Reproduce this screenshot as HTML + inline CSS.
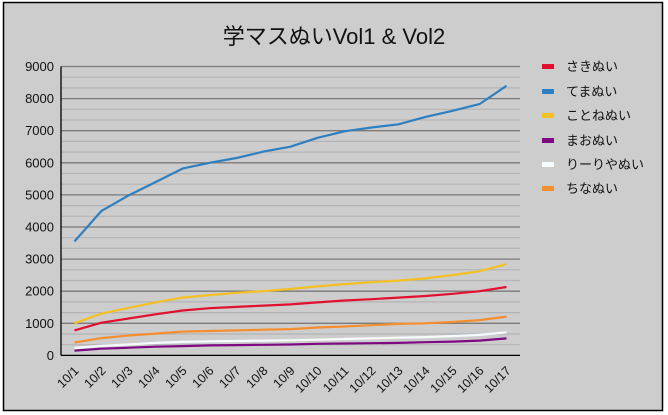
<!DOCTYPE html>
<html><head><meta charset="utf-8"><style>
html,body{margin:0;padding:0;background:#fff;}
svg{display:block;font-family:"Liberation Sans","Noto Sans CJK JP",sans-serif;}
</style></head><body>
<svg id="s" width="668" height="415" viewBox="0 0 668 415" xmlns="http://www.w3.org/2000/svg">
<rect x="3.5" y="2.5" width="659" height="408" fill="#cdcdcd" stroke="#000" stroke-width="1.5"/>
<text x="334" y="44" font-size="22" text-anchor="middle" fill="#111">学マスぬいVol1 &amp; Vol2</text>
<g id="grid"></g>
<g id="lines" fill="none" stroke-width="2.2" stroke-linejoin="round"></g>
<g id="lab" font-size="12.5" fill="#111"></g>
<g font-size="13" fill="#111">
<rect x="542" y="64" width="12" height="5" fill="#e0102e"/><text x="566" y="71">さきぬい</text>
<rect x="542" y="89" width="12" height="5" fill="#2e7fc0"/><text x="566" y="96">てまぬい</text>
<rect x="542" y="113" width="12" height="5" fill="#f5c023"/><text x="566" y="120">ことねぬい</text>
<rect x="542" y="138" width="12" height="5" fill="#7d0a82"/><text x="566" y="145">まおぬい</text>
<rect x="542" y="162" width="12" height="5" fill="#f6fbff"/><text x="566" y="169">りーりやぬい</text>
<rect x="542" y="186" width="12" height="5" fill="#f58e2f"/><text x="566" y="193">ちなぬい</text>
</g>
</svg>
<script>
var NS="http://www.w3.org/2000/svg";
function el(p,t,a,txt){var e=document.createElementNS(NS,t);for(var k in a)e.setAttribute(k,a[k]);if(txt)e.textContent=txt;p.appendChild(e);return e;}
var y0=355.4,k=32.1/1000,x0=61,x1=520;
function Y(v){return y0-v*k;}
var g=document.getElementById('grid');
for(var v=0;v<=9000;v+=1000/3){var y=Y(v);var maj=Math.abs(v/1000-Math.round(v/1000))<0.01;
 if(Math.round(v)===0)continue;
 el(g,'line',{x1:x0,x2:x1,y1:y,y2:y,stroke:maj?'#7a7a7a':'#b4b4b4','stroke-width':maj?1.3:1.2});}
el(g,'line',{x1:x0,x2:x0,y1:Y(9000),y2:y0,stroke:'#000','stroke-width':1.3});
el(g,'line',{x1:x0,x2:x1,y1:y0,y2:y0,stroke:'#000','stroke-width':1.3});
var lab=document.getElementById('lab');
for(var i=0;i<=9;i++){el(lab,'text',{x:54,y:Y(i*1000)+4.5,'text-anchor':'end','font-size':13},String(i*1000));}
var dx=(x1-x0)/17;
for(var i=0;i<17;i++){var x=x0+dx*(i+0.5);
 el(lab,'text',{x:0,y:0,'text-anchor':'end',transform:'translate('+(x+5)+','+(y0+16)+') rotate(-45)'},'10/'+(i+1));}
var S=[
['#f58e2f',[400,540,620,680,740,760,780,800,820,870,900,940,980,1000,1040,1100,1210]],
['#f6fbff',[230,300,340,390,420,440,450,460,470,490,510,530,550,570,600,640,720]],
['#7d0a82',[150,210,240,270,290,310,320,330,340,360,370,380,390,410,430,460,530]],
['#f5c023',[1000,1300,1480,1650,1800,1880,1950,2000,2070,2150,2220,2280,2330,2400,2500,2620,2840]],
['#e0102e',[780,1020,1150,1280,1400,1470,1510,1550,1590,1650,1710,1750,1800,1850,1920,2000,2130]],
['#2e7fc0',[3550,4500,4980,5400,5820,6000,6150,6350,6500,6780,6980,7100,7200,7430,7620,7830,8400]]
];
var L=document.getElementById('lines');
S.forEach(function(s){var p=s[1].map(function(v,i){return (x0+dx*(i+0.5)).toFixed(1)+','+Y(v).toFixed(1);}).join(' ');
 el(L,'polyline',{points:p,stroke:s[0]});});
</script>
</body></html>
